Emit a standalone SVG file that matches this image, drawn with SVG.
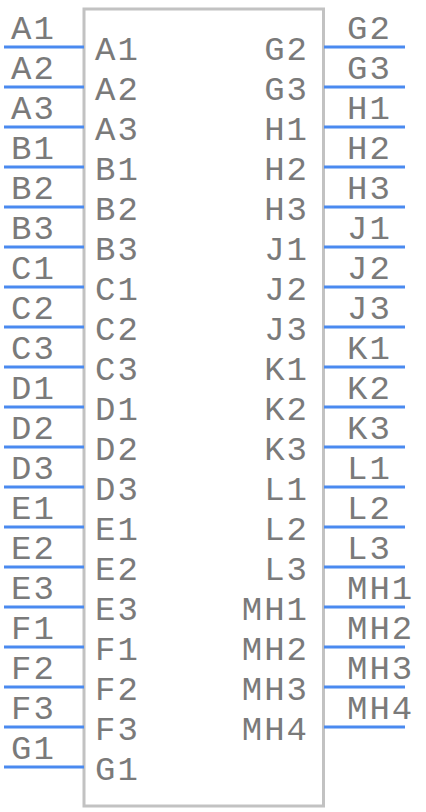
<svg xmlns="http://www.w3.org/2000/svg" width="426" height="812" viewBox="0 0 426 812">
<style>
.body{fill:#ffffff;stroke:#c2c2c2;stroke-width:3}
.pin{stroke:#4a8af0;stroke-width:3;fill:none}
text{font-family:"Liberation Mono","Courier New",monospace;font-size:34px;letter-spacing:2px;fill:#7a7a7a}
.r{text-anchor:end}
</style>
<rect width="426" height="812" fill="#ffffff"/>
<g id="body"><rect class="body" x="84" y="9" width="239.5" height="797"/></g>
<g id="connectors">
<path class="pin" d="M4 47H84M4 87H84M4 127H84M4 167H84M4 207H84M4 247H84M4 287H84M4 327H84M4 367H84M4 407H84M4 447H84M4 487H84M4 527H84M4 567H84M4 607H84M4 647H84M4 687H84M4 727H84M4 767H84"/>
<path class="pin" d="M324 47H405M324 87H405M324 127H405M324 167H405M324 207H405M324 247H405M324 287H405M324 327H405M324 367H405M324 407H405M324 447H405M324 487H405M324 527H405M324 567H405M324 607H405M324 647H405M324 687H405M324 727H405"/>
</g>
<g id="left-pins">
<g id="pin-A1"><text x="11" y="39">A1</text><text x="95" y="60">A1</text></g>
<g id="pin-A2"><text x="11" y="79">A2</text><text x="95" y="100">A2</text></g>
<g id="pin-A3"><text x="11" y="119">A3</text><text x="95" y="140">A3</text></g>
<g id="pin-B1"><text x="11" y="159">B1</text><text x="95" y="180">B1</text></g>
<g id="pin-B2"><text x="11" y="199">B2</text><text x="95" y="220">B2</text></g>
<g id="pin-B3"><text x="11" y="239">B3</text><text x="95" y="260">B3</text></g>
<g id="pin-C1"><text x="11" y="279">C1</text><text x="95" y="300">C1</text></g>
<g id="pin-C2"><text x="11" y="319">C2</text><text x="95" y="340">C2</text></g>
<g id="pin-C3"><text x="11" y="359">C3</text><text x="95" y="380">C3</text></g>
<g id="pin-D1"><text x="11" y="399">D1</text><text x="95" y="420">D1</text></g>
<g id="pin-D2"><text x="11" y="439">D2</text><text x="95" y="460">D2</text></g>
<g id="pin-D3"><text x="11" y="479">D3</text><text x="95" y="500">D3</text></g>
<g id="pin-E1"><text x="11" y="519">E1</text><text x="95" y="540">E1</text></g>
<g id="pin-E2"><text x="11" y="559">E2</text><text x="95" y="580">E2</text></g>
<g id="pin-E3"><text x="11" y="599">E3</text><text x="95" y="620">E3</text></g>
<g id="pin-F1"><text x="11" y="639">F1</text><text x="95" y="660">F1</text></g>
<g id="pin-F2"><text x="11" y="679">F2</text><text x="95" y="700">F2</text></g>
<g id="pin-F3"><text x="11" y="719">F3</text><text x="95" y="740">F3</text></g>
<g id="pin-G1"><text x="11" y="759">G1</text><text x="95" y="780">G1</text></g>
</g>
<g id="right-pins">
<g id="pin-G2"><text x="347" y="39">G2</text><text class="r" x="309" y="60">G2</text></g>
<g id="pin-G3"><text x="347" y="79">G3</text><text class="r" x="309" y="100">G3</text></g>
<g id="pin-H1"><text x="347" y="119">H1</text><text class="r" x="309" y="140">H1</text></g>
<g id="pin-H2"><text x="347" y="159">H2</text><text class="r" x="309" y="180">H2</text></g>
<g id="pin-H3"><text x="347" y="199">H3</text><text class="r" x="309" y="220">H3</text></g>
<g id="pin-J1"><text x="347" y="239">J1</text><text class="r" x="309" y="260">J1</text></g>
<g id="pin-J2"><text x="347" y="279">J2</text><text class="r" x="309" y="300">J2</text></g>
<g id="pin-J3"><text x="347" y="319">J3</text><text class="r" x="309" y="340">J3</text></g>
<g id="pin-K1"><text x="347" y="359">K1</text><text class="r" x="309" y="380">K1</text></g>
<g id="pin-K2"><text x="347" y="399">K2</text><text class="r" x="309" y="420">K2</text></g>
<g id="pin-K3"><text x="347" y="439">K3</text><text class="r" x="309" y="460">K3</text></g>
<g id="pin-L1"><text x="347" y="479">L1</text><text class="r" x="309" y="500">L1</text></g>
<g id="pin-L2"><text x="347" y="519">L2</text><text class="r" x="309" y="540">L2</text></g>
<g id="pin-L3"><text x="347" y="559">L3</text><text class="r" x="309" y="580">L3</text></g>
<g id="pin-MH1"><text x="347" y="599">MH1</text><text class="r" x="309" y="620">MH1</text></g>
<g id="pin-MH2"><text x="347" y="639">MH2</text><text class="r" x="309" y="660">MH2</text></g>
<g id="pin-MH3"><text x="347" y="679">MH3</text><text class="r" x="309" y="700">MH3</text></g>
<g id="pin-MH4"><text x="347" y="719">MH4</text><text class="r" x="309" y="740">MH4</text></g>
</g>
</svg>
